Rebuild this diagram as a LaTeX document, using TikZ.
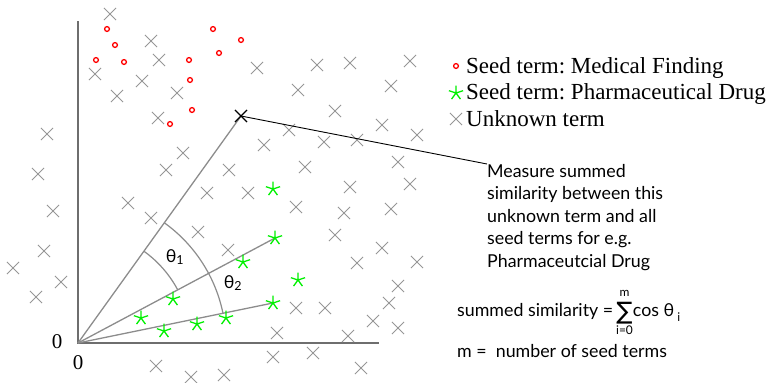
\RequirePackage{fix-cm}
\documentclass[tikz,border=0pt]{standalone}
\usepackage{fontspec}
\setmainfont{Liberation Serif}
\newfontfamily\notefont{Lato}
\newfontfamily\sumfont{DejaVu Sans}
\usetikzlibrary{plotmarks}
\frenchspacing

\definecolor{crossgray}{RGB}{150,150,150}
\definecolor{raygray}{RGB}{140,140,140}
\definecolor{axisgray}{RGB}{110,110,110}
\definecolor{druggreen}{RGB}{0,240,0}

\newcommand\limfont{\notefont\fontsize{12}{12}\selectfont}

\tikzset{
  unknown/.style={crossgray, line width=1pt, mark size=8.5pt},
  finding/.style={red, line width=1.3pt, mark size=2.4pt},
  drug/.style={druggreen, line width=1.3pt, mark size=7.5pt},
  ray/.style={raygray, line width=1.3pt},
  anglearc/.style={raygray, line width=1.2pt},
  note/.style={font=\notefont\fontsize{17.8}{22.5}\selectfont, align=left, inner sep=0pt},
  legend/.style={font=\fontsize{23}{27}\selectfont, anchor=base west, inner sep=0pt}
}

\begin{document}
\begin{tikzpicture}[x=1pt, y=-1pt]
    \useasboundingbox (0,0) rectangle (772,383);

    % Axes
    \coordinate (origin) at (78,343);
    \coordinate (ytop) at (78,21);
    \coordinate (xend) at (379,343);
    \draw[axisgray, line width=1.5pt] (ytop) -- (origin) -- (xend);
    \node[font=\fontsize{21}{21}\selectfont] (zeroy) at (57,342) {0};
    \node[font=\fontsize{21}{21}\selectfont] (zerox) at (78,363) {0};

    % Vectors from the origin
    \coordinate (unk) at (241,116);
    \coordinate (drugmid) at (275,238);
    \coordinate (druglow) at (273,303);
    \draw[ray] (origin) -- (unk);
    \draw[ray] (origin) -- (drugmid);
    \draw[ray] (origin) -- (druglow);

    % Angles
    \draw[anglearc] ([shift={(54.3:113pt)}]origin) arc[start angle=54.3, end angle=28.1, radius=113pt];
    \draw[anglearc] ([shift={(54.3:148pt)}]origin) arc[start angle=54.3, end angle=11.65, radius=148pt];
    \node[note] (theta1) at (175,257) {θ\textsubscript{1}};
    \node[note] (theta2) at (233,283) {θ\textsubscript{2}};

    % Unknown terms
    \path[unknown] plot[only marks, mark=x] coordinates {
        (110,14) (151,41) (159,60) (95,74) (142,81) (177,93) (117,96) (158,118)
        (257,68) (317,65) (350,63) (410,61) (298,90) (391,86) (335,111) (382,125)
        (417,135) (289,130) (264,145) (324,142) (357,140) (47,134) (38,174) (183,153)
        (166,170) (229,170) (305,167) (398,162) (207,193) (248,193) (350,187) (410,184)
        (128,203) (53,211) (151,218) (296,207) (344,213) (391,209) (198,232) (335,235)
        (44,251) (228,250) (382,248) (13,268) (357,263) (417,262) (61,282) (398,286)
        (36,297) (296,308) (325,308) (389,303) (373,321) (398,328) (277,333) (348,336)
        (273,357) (313,353) (156,366) (361,368) (191,377) (224,375)};

    % Seed terms: medical finding
    \path[finding] plot[only marks, mark=o] coordinates {
        (107,29) (115,45) (96,60) (124,62) (189,60) (190,80) (192,110) (170,124)
        (213,29) (241,40) (219,53)};

    % Seed terms: pharmaceutical drug
    \path[drug] plot[only marks, mark=star] coordinates {
        (273,189) (275,238) (243,262) (298,280) (173,299) (273,303) (141,318)
        (226,318) (197,324) (164,331)};

    % The unknown term under study
    \path[black, line width=1.3pt, mark size=8.5pt] plot[only marks, mark=x] coordinates {(unk)};

    % Legend
    \path[finding] plot[only marks, mark=o] coordinates {(456,66)};
    \path[drug] plot[only marks, mark=star] coordinates {(456,93)};
    \path[unknown] plot[only marks, mark=x] coordinates {(456,119)};
    \node[legend] (lgfinding) at (466,73) {Seed term: Medical Finding};
    \node[legend] (lgdrug) at (466,99) {Seed term: Pharmaceutical Drug};
    \node[legend] (lgunknown) at (466,126) {Unknown term};

    % Annotation
    \node[note, anchor=north west] (measure) at (487,164) {Measure summed\\similarity between this\\unknown term and all\\seed terms for e.g.\\Pharmaceutcial Drug};
    \draw[black, line width=0.9pt] (unk) -- (measure.north west);

    \node[note, anchor=base west] (summed) at (457,316) {summed similarity =\,$\mathop{\raisebox{-3pt}{\sumfont\fontsize{24}{24}\selectfont ∑}}\limits_{\raisebox{-1.5pt}{\limfont i=0}}^{\raisebox{3pt}{\limfont m}}$cos θ\hspace{3pt}\raisebox{-5pt}{\limfont i}};
    \node[note, anchor=base west] (mcount) at (457,357) {m =~ number of seed terms};
\end{tikzpicture}
\end{document}
